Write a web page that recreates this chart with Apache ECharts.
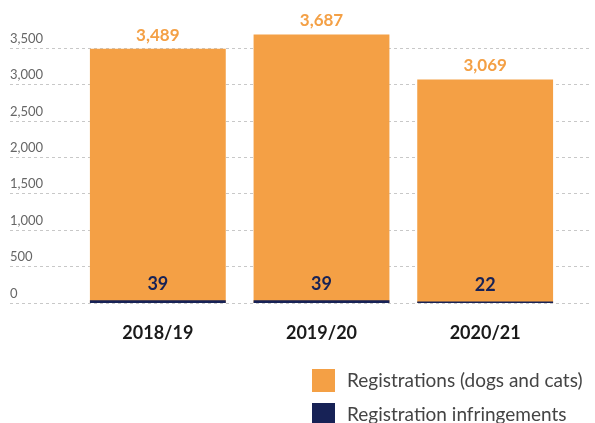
<!DOCTYPE html>
<html>
<head>
<meta charset="utf-8">
<script src="https://cdn.jsdelivr.net/npm/echarts@6/dist/echarts.min.js"></script>
<style>
  html, body { margin: 0; padding: 0; background: #fff; }
  #chart { width: 595px; height: 423px; }
</style>
</head>
<body>
<div id="chart"></div>
<script>
// data
const years = ['2018/19', '2019/20', '2020/21']
const registrations = [3489, 3687, 3069]
const infringements = [39, 39, 22]
const yTicks = [0, 500, 1000, 1500, 2000, 2500, 3000, 3500]

const ORANGE = '#F4A045'
const NAVY = '#172256'
const REG = 'Registrations (dogs and cats)'
const INF = 'Registration infringements'
const fmt = v => v.toLocaleString('en-US')

const chart = echarts.init(document.getElementById('chart'))

// one 500 step is ~36.3px; gridlines grid tops out at 3,500, bars grid at 4,000
const gridTop = 48
const gridBottom = 120
const step = (423 - gridTop - gridBottom) / 7

const legendBase = {
  orient: 'vertical',
  left: 312,
  padding: 0,
  itemWidth: 23,
  itemHeight: 23,
  icon: 'rect',
  textStyle: { fontSize: 19, color: '#444', padding: [0, 0, 0, 7] }
}

const option = {
  animation: false,
  textStyle: { fontFamily: 'Lato' },
  legend: [
    { ...legendBase, top: 369, data: [REG] },
    { ...legendBase, top: 403, data: [INF] }
  ],
  grid: [
    // full width grid for gridlines and tick labels
    { left: 10, right: 4, top: gridTop, bottom: gridBottom },
    // grid for the bars
    { left: 76, right: 28, top: gridTop - step, bottom: gridBottom }
  ],
  xAxis: [
    { gridIndex: 0, type: 'value', show: false },
    {
      gridIndex: 1,
      type: 'category',
      data: years,
      axisLine: { show: false },
      axisTick: { show: false },
      axisLabel: { margin: 21, fontSize: 18, fontWeight: 'bold', color: '#1a1a1a' }
    }
  ],
  yAxis: [
    {
      gridIndex: 0,
      type: 'value',
      min: yTicks[0],
      max: yTicks[yTicks.length - 1],
      interval: 500,
      axisLine: { show: false },
      axisTick: { show: false },
      splitLine: { lineStyle: { color: '#c8c8c8', type: [3, 3], width: 1 } },
      axisLabel: {
        inside: true,
        margin: 0,
        verticalAlign: 'bottom',
        padding: [0, 0, 3, 0],
        fontSize: 13,
        color: '#666',
        formatter: v => fmt(v)
      }
    },
    {
      gridIndex: 1,
      type: 'value',
      min: 0,
      max: 4000,
      interval: 500,
      show: false,
      splitLine: { show: false }
    }
  ],
  series: [
    {
      name: REG,
      type: 'bar',
      xAxisIndex: 1,
      yAxisIndex: 1,
      barWidth: '83%',
      barGap: '-100%',
      data: registrations,
      itemStyle: { color: ORANGE },
      label: {
        show: true,
        position: 'top',
        distance: 5,
        fontSize: 17,
        fontWeight: 'bold',
        color: ORANGE,
        formatter: p => fmt(p.value)
      },
      z: 2
    },
    {
      name: INF,
      type: 'bar',
      xAxisIndex: 1,
      yAxisIndex: 1,
      barWidth: '83%',
      barGap: '-100%',
      data: infringements,
      itemStyle: { color: NAVY },
      label: {
        show: true,
        position: 'top',
        distance: 7,
        fontSize: 18,
        fontWeight: 'bold',
        color: NAVY
      },
      z: 3
    }
  ]
}

chart.setOption(option)
window.addEventListener('resize', () => chart.resize())
</script>
</body>
</html>
